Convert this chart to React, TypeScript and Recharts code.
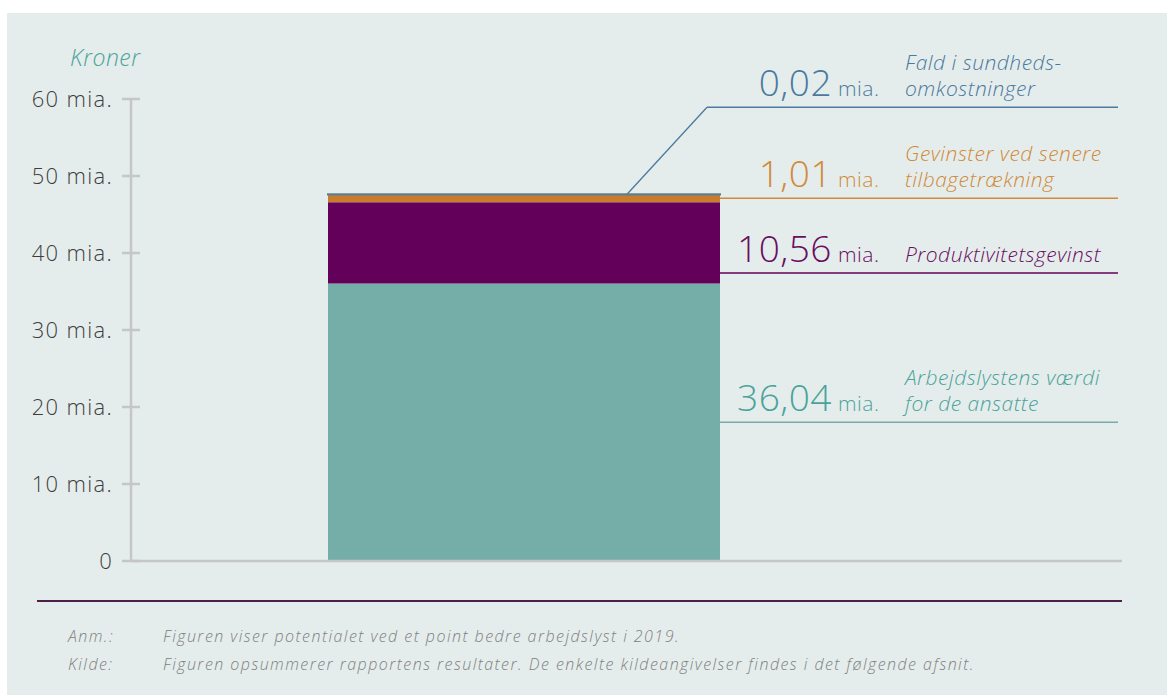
import React from 'react';
import { BarChart, Bar, XAxis, YAxis } from 'recharts';

const categories = ['Potentiale'];
const arbejdslyst = [36.04];
const produktivitet = [10.56];
const tilbagetraekning = [1.01];
const sundhed = [0.02];
const yTicks = [0, 10, 20, 30, 40, 50, 60];
const labelArbejdslyst = ['Arbejdslystens værdi', 'for de ansatte'];
const labelProduktivitet = ['Produktivitetsgevinst'];
const labelTilbage = ['Gevinster ved senere', 'tilbagetrækning'];
const labelSundhed = ['Fald i sundheds-', 'omkostninger'];

const data = categories.map((c, i) => ({
  name: c,
  arbejdslyst: arbejdslyst[i],
  produktivitet: produktivitet[i],
  tilbage: tilbagetraekning[i],
  sundhed: sundhed[i],
}));

const W = 1167;
const H = 695;
const FONT = "'Open Sans', sans-serif";
const LINE_END = 1118;

const fmt = (v: number) => (v === 0 ? '0' : v.toFixed(2).replace('.', ','));

type LabelCfg = {
  values: number[];
  lines: string[];
  color: string;
  textColor: string;
  lineAt: (y: number, h: number) => number;
  diagonal?: boolean;
};

const makeLabel = (cfg: LabelCfg) => (props: any) => {
  const x = Number(props.x);
  const y = Number(props.y);
  const width = Number(props.width);
  const height = Number(props.height);
  const idx = Number(props.index) || 0;
  const value = cfg.values[idx];
  const right = x + width;
  const ly = cfg.lineAt(y, height);
  const valX = right + 112;
  const catX = right + 185;
  const base = ly - 11;
  const els: any[] = [];
  if (cfg.diagonal) {
    const sx = right - 93;
    const ex = right - 13;
    els.push(<line key="d" x1={sx} y1={y} x2={ex} y2={ly} stroke={cfg.color} strokeWidth={1.3} />);
    els.push(<line key="h" x1={ex} y1={ly} x2={LINE_END} y2={ly} stroke={cfg.color} strokeWidth={1.5} />);
  } else {
    els.push(<line key="h" x1={right} y1={ly} x2={LINE_END} y2={ly} stroke={cfg.color} strokeWidth={1.5} />);
  }
  els.push(
    <text key="v" x={valX} y={base} textAnchor="end" fontFamily={FONT} fontWeight={300} fontSize={37} letterSpacing={0.5} fill={cfg.textColor}>
      {fmt(value)}
    </text>
  );
  els.push(
    <text key="m" x={valX + 6} y={base} textAnchor="start" fontFamily={FONT} fontWeight={300} fontSize={21} letterSpacing={0.5} fill={cfg.textColor}>
      mia.
    </text>
  );
  const n = cfg.lines.length;
  cfg.lines.forEach((t, i) => {
    els.push(
      <text key={'c' + i} x={catX} y={base - (n - 1 - i) * 26} textAnchor="start" fontFamily={FONT} fontStyle="italic" fontWeight={300} fontSize={21} letterSpacing={0.5} fill={cfg.textColor}>
        {t}
      </text>
    );
  });
  return <g>{els}</g>;
};

const YTick = (props: any) => {
  const { x, y, payload } = props;
  const v = payload.value;
  return (
    <g>
      <line x1={x - 9} y1={y} x2={x + 9} y2={y} stroke="#c4c6c7" strokeWidth={2.5} />
      <text x={x - 18} y={y} dy="0.35em" textAnchor="end" fontFamily={FONT} fontWeight={300} fontSize={22} letterSpacing={1.3} fill="#3d3d3d">
        {v === 0 ? '0' : `${v} mia.`}
      </text>
    </g>
  );
};

const footStyle: React.CSSProperties = {
  position: 'absolute',
  fontFamily: FONT,
  fontStyle: 'italic',
  fontWeight: 300,
  fontSize: 16,
  letterSpacing: 1.45,
  color: '#808080',
  whiteSpace: 'nowrap',
};

export default function App() {
  return (
    <div style={{ position: 'absolute', left: 0, top: 0, width: W, height: H, background: '#ffffff', overflow: 'hidden' }}>
      <div style={{ position: 'absolute', left: 7, top: 13, width: W - 7, height: H - 13, background: '#e5edec' }} />
      <div style={{ position: 'absolute', left: 70, top: 41, fontFamily: FONT, fontStyle: 'italic', fontWeight: 300, fontSize: 23, letterSpacing: 0.5, color: '#4aa39b' }}>
        Kroner
      </div>
      <div style={{ position: 'absolute', left: 0, top: 0 }}>
        <BarChart width={W} height={H} data={data} margin={{ top: 99, right: 45, bottom: 133, left: 0 }} barCategoryGap={0}>
          <XAxis dataKey="name" height={1} tick={false} tickLine={false} axisLine={{ stroke: '#c4c6c7', strokeWidth: 2.5 }} padding={{ left: 197, right: 402 }} />
          <YAxis width={131} domain={[0, 60]} ticks={yTicks} interval={0} tickLine={false} tickSize={0} tickMargin={0} axisLine={{ stroke: '#c4c6c7', strokeWidth: 2.5 }} tick={<YTick />} />
          <Bar dataKey="arbejdslyst" stackId="a" fill="#75ada9" isAnimationActive={false}
            label={makeLabel({ values: arbejdslyst, lines: labelArbejdslyst, color: '#75ada9', textColor: '#4aa39b', lineAt: (y, h) => y + h / 2 })} />
          <Bar dataKey="produktivitet" stackId="a" fill="#62005a" isAnimationActive={false}
            label={makeLabel({ values: produktivitet, lines: labelProduktivitet, color: '#62005a', textColor: '#6a0e62', lineAt: (y, h) => y + h * 0.87 })} />
          <Bar dataKey="tilbage" stackId="a" fill="#c77d2b" isAnimationActive={false}
            label={makeLabel({ values: tilbagetraekning, lines: labelTilbage, color: '#d08a3a', textColor: '#d08a3a', lineAt: (y, h) => y + h / 2 })} />
          <Bar dataKey="sundhed" stackId="a" fill="#5f7f90" stroke="#5f7f90" strokeWidth={2} isAnimationActive={false}
            label={makeLabel({ values: sundhed, lines: labelSundhed, color: '#4a7a9e', textColor: '#4a7a9e', lineAt: (y) => y - 87, diagonal: true })} />
        </BarChart>
      </div>
      <div style={{ position: 'absolute', left: 37, top: 600, width: 1085, height: 2, background: '#4d1f4b' }} />
      <div style={{ ...footStyle, left: 68, top: 625 }}>Anm.:</div>
      <div style={{ ...footStyle, left: 163, top: 625 }}>Figuren viser potentialet ved et point bedre arbejdslyst i 2019.</div>
      <div style={{ ...footStyle, left: 68, top: 653 }}>Kilde:</div>
      <div style={{ ...footStyle, left: 163, top: 653 }}>Figuren opsummerer rapportens resultater. De enkelte kildeangivelser findes i det følgende afsnit.</div>
    </div>
  );
}
